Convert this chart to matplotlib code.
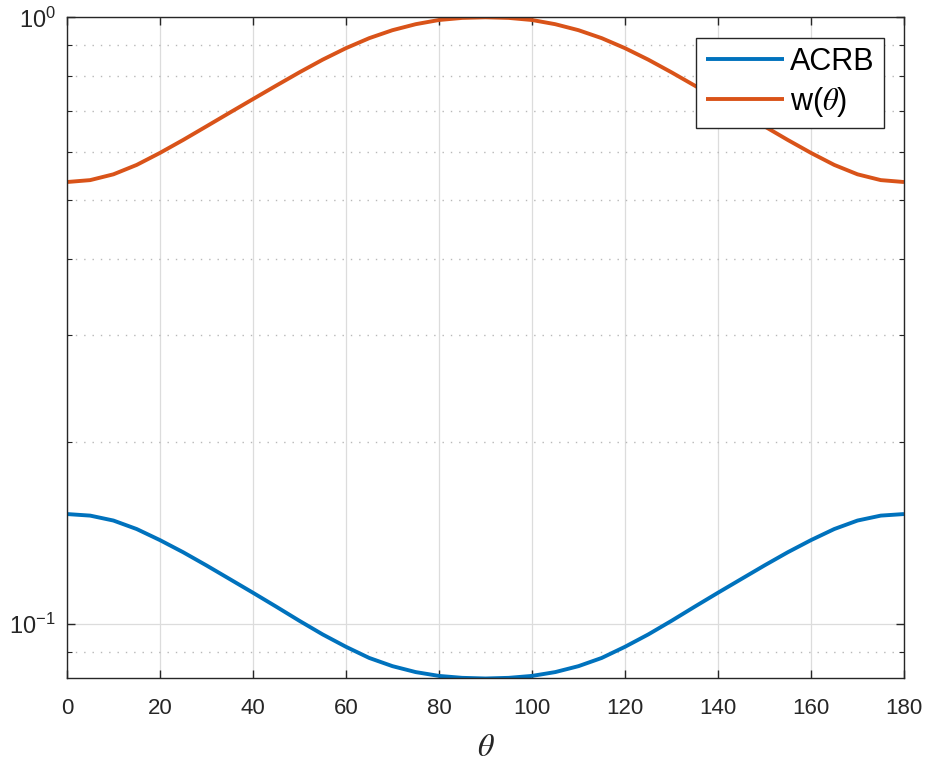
import matplotlib
matplotlib.use("Agg")
import matplotlib.pyplot as plt
from matplotlib.ticker import FixedLocator, NullLocator, NullFormatter

plt.rcParams['font.family'] = ['Liberation Sans', 'DejaVu Sans']
plt.rcParams['mathtext.fontset'] = 'custom'
plt.rcParams['mathtext.rm'] = 'Liberation Sans'
plt.rcParams['mathtext.it'] = 'Liberation Sans:italic'

theta = [0, 5, 10, 15, 20, 25, 30, 35, 40, 45, 50, 55, 60, 65, 70, 75, 80, 85, 90,
         95, 100, 105, 110, 115, 120, 125, 130, 135, 140, 145, 150, 155, 160, 165,
         170, 175, 180]

acrb = [0.1519, 0.1510, 0.1482, 0.1435, 0.1376, 0.1314, 0.1250, 0.1187, 0.1127,
        0.1069, 0.1013, 0.0962, 0.0918, 0.0880, 0.0853, 0.0834, 0.0822, 0.0816,
        0.0814,
        0.0816, 0.0822, 0.0834, 0.0853, 0.0880, 0.0918, 0.0962, 0.1013, 0.1069,
        0.1127, 0.1187, 0.1250, 0.1314, 0.1376, 0.1435, 0.1482, 0.1510, 0.1519]

w = [0.5353, 0.5392, 0.5512, 0.5712, 0.5978, 0.6280, 0.6612, 0.6964, 0.7332,
     0.7717, 0.8116, 0.8516, 0.8895, 0.9239, 0.9523, 0.9742, 0.9898, 0.9977,
     1.0,
     0.9977, 0.9898, 0.9742, 0.9523, 0.9239, 0.8895, 0.8516, 0.8116, 0.7717,
     0.7332, 0.6964, 0.6612, 0.6280, 0.5978, 0.5712, 0.5512, 0.5392, 0.5353]

series_labels = ['ACRB', r'w($\theta$)']
x_ticks = [0, 20, 40, 60, 80, 100, 120, 140, 160, 180]
y_ticks = [0.1, 1.0]
y_tick_labels = [r'$10^{-1}$', r'$10^{0}$']
y_minor = [0.09, 0.2, 0.3, 0.4, 0.5, 0.6, 0.7, 0.8, 0.9]

fig = plt.figure(figsize=(9.27, 7.69), dpi=100)
ax = fig.add_axes([0.0722, 0.1177, 0.9752 - 0.0722, 0.9775 - 0.1177])

ax.plot(theta, acrb, color='#0072BD', lw=2.8, label=series_labels[0],
        solid_joinstyle='round', solid_capstyle='butt')
ax.plot(theta, w, color='#D95319', lw=2.8, label=series_labels[1],
        solid_joinstyle='round', solid_capstyle='butt')

ax.set_yscale('log')
ax.set_xlim(0, 180)
ax.set_ylim(min(acrb), max(w))

ax.xaxis.set_major_locator(FixedLocator(x_ticks))
ax.xaxis.set_minor_locator(NullLocator())
ax.yaxis.set_major_locator(FixedLocator(y_ticks))
ax.set_yticklabels(y_tick_labels)
ax.yaxis.set_minor_locator(FixedLocator(y_minor))
ax.yaxis.set_minor_formatter(NullFormatter())

edge = '#262626'
for s in ax.spines.values():
    s.set_color(edge)
    s.set_linewidth(1.0)

ax.tick_params(which='both', direction='in', top=True, right=True, colors=edge,
               labelcolor='#262626')
ax.tick_params(which='major', length=6, width=1.0, labelsize=16)
ax.tick_params(axis='x', which='major', pad=14)
ax.tick_params(axis='y', which='major', pad=8, labelsize=17)
ax.tick_params(which='minor', length=3.5, width=0.8)

ax.grid(True, which='major', color='#dcdcdc', lw=0.9, ls='-')
ax.grid(True, which='minor', axis='y', color='#b8b8b8', lw=1.0, ls=(0, (1, 5)))
ax.set_axisbelow(True)

xl = ax.set_xlabel(r'$\theta$', fontsize=23, labelpad=10, color='#262626')
xl.set_math_fontfamily('stix')

leg = ax.legend(loc='upper right', bbox_to_anchor=(0.976, 0.969), borderaxespad=0,
                fontsize=22, handlelength=2.55, handletextpad=0.22, labelspacing=0.25,
                borderpad=0.3, fancybox=False, framealpha=1, edgecolor=edge)
leg.get_frame().set_linewidth(1.0)
leg.get_texts()[1].set_math_fontfamily('stix')

fig.savefig('out.png', dpi=100)
